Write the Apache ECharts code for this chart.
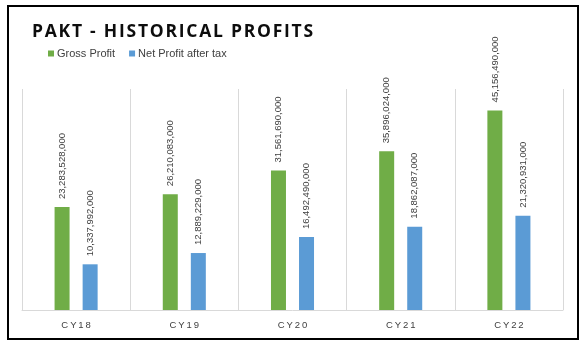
<!DOCTYPE html>
<html>
<head>
    <meta charset="UTF-8">
    <title>PAKT - Historical Profits</title>
    <script src="https://cdn.jsdelivr.net/npm/echarts@6/dist/echarts.min.js"></script>
</head>
<style type="text/css">
    html, body {
        width: 100%;
        height: 100%;
        margin: 0;
        padding: 0;
        background: #fff;
    }
    #main {
        width: 588px;
        height: 350px;
    }
</style>
<body>
    <div id="main"></div>
</body>
<script>
    var years = ['CY18', 'CY19', 'CY20', 'CY21', 'CY22'];
    var grossProfit = [23283528000, 26210083000, 31561690000, 35896024000, 45156490000];
    var netProfit = [10337992000, 12889229000, 16492490000, 18862087000, 21320931000];

    // spread letters a bit, the original has wide tracking
    function spaced(s, sp) {
        return s.split('').join(sp);
    }

    var labelOpt = {
        show: true,
        position: 'top',
        rotate: 90,
        align: 'left',
        verticalAlign: 'middle',
        distance: 8,
        fontSize: 9.5,
        color: '#404040',
        fontFamily: 'Liberation Sans',
        formatter: function (p) {
            return p.value.toLocaleString('en-US');
        }
    };

    var myChart = echarts.init(document.getElementById('main'));
    var option = {
        animation: false,
        backgroundColor: '#fff',
        title: {
            text: spaced('PAKT - HISTORICAL PROFITS', '\u200a'),
            left: 27,
            top: 18,
            textStyle: {
                fontFamily: 'Open Sans',
                fontWeight: 'bold',
                fontSize: 17.5,
                color: '#0d0d0d'
            }
        },
        legend: {
            left: 43,
            top: 43,
            itemWidth: 6,
            itemHeight: 6,
            itemGap: 14,
            icon: 'rect',
            textStyle: {
                fontFamily: 'Liberation Sans',
                fontSize: 11,
                color: '#404040',
                padding: [0, 0, 0, -2]
            },
            data: ['Gross Profit', 'Net Profit after tax']
        },
        grid: {
            left: 22,
            right: 25,
            top: 89,
            bottom: 40
        },
        xAxis: {
            type: 'category',
            data: years,
            axisTick: { show: false },
            axisLine: { lineStyle: { color: '#d9d9d9' } },
            splitLine: { show: true, lineStyle: { color: '#d9d9d9' } },
            axisLabel: {
                margin: 10,
                fontSize: 9.5,
                color: '#404040',
                fontFamily: 'Liberation Sans',
                formatter: function (v) { return spaced(v, '\u2009'); }
            }
        },
        yAxis: {
            type: 'value',
            min: 0,
            max: 50000000000,
            show: false,
            splitLine: { show: false }
        },
        graphic: [{
            type: 'rect',
            shape: { x: 8, y: 6, width: 570, height: 333 },
            style: { fill: 'none', stroke: '#000', lineWidth: 2 },
            silent: true
        }],
        series: [{
            name: 'Gross Profit',
            type: 'bar',
            data: grossProfit,
            barWidth: 15,
            barGap: '87%',
            itemStyle: { color: '#70ad47' },
            label: labelOpt
        }, {
            name: 'Net Profit after tax',
            type: 'bar',
            data: netProfit,
            barWidth: 15,
            barGap: '87%',
            itemStyle: { color: '#5b9bd5' },
            label: labelOpt
        }]
    };
    myChart.setOption(option);
</script>
</html>
